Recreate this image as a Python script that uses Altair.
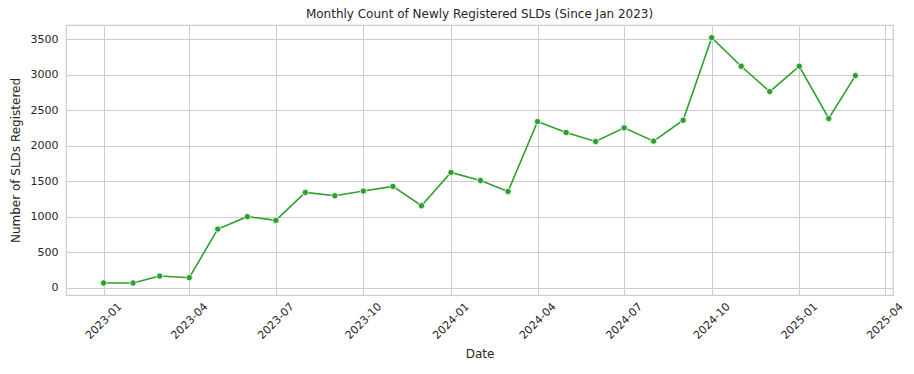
import altair as alt
import pandas as pd

months = ["2023-01", "2023-02", "2023-03", "2023-04", "2023-05", "2023-06", "2023-07",
          "2023-08", "2023-09", "2023-10", "2023-11", "2023-12", "2024-01", "2024-02",
          "2024-03", "2024-04", "2024-05", "2024-06", "2024-07", "2024-08", "2024-09",
          "2024-10", "2024-11", "2024-12", "2025-01", "2025-02", "2025-03"]
counts = [66, 66, 164, 141, 826, 1000, 948, 1342, 1295, 1361, 1426, 1154, 1623, 1510,
          1355, 2340, 2186, 2059, 2251, 2064, 2359, 3522, 3119, 2762, 3119, 2383, 2988]
tick_months = [(2023, 1), (2023, 4), (2023, 7), (2023, 10), (2024, 1), (2024, 4),
               (2024, 7), (2024, 10), (2025, 1), (2025, 4)]
y_ticks = [0, 500, 1000, 1500, 2000, 2500, 3000, 3500]

df = pd.DataFrame({"date": [m + "-01" for m in months], "count": counts})

FONT = "DejaVu Sans"
TXT = "#262626"
GREEN = "#2ca02c"

x = alt.X(
    "date:T",
    title="Date",
    scale=alt.Scale(
        type="utc",
        domain=[alt.DateTime(year=2022, month=11, date=22, hours=12, utc=True),
                alt.DateTime(year=2025, month=4, date=9, hours=12, utc=True)],
    ),
    axis=alt.Axis(
        values=[alt.DateTime(year=y, month=m, date=1, utc=True) for y, m in tick_months],
        labelExpr="utcFormat(datum.value, '%Y-%m')",
        labelAngle=-45, labelAlign="center", labelBaseline="middle",
        labelPadding=26, titlePadding=8,
    ),
)
y = alt.Y(
    "count:Q",
    title="Number of SLDs Registered",
    scale=alt.Scale(domain=[-103, 3700], nice=False, zero=False),
    axis=alt.Axis(values=y_ticks, format="d", labelPadding=8, titlePadding=8),
)

base = alt.Chart(df)
line = base.mark_line(color=GREEN, strokeWidth=1.6).encode(x=x, y=y)
pts = base.mark_point(filled=True, color=GREEN, size=40, opacity=1,
                      stroke="white", strokeWidth=0.8).encode(x=x, y=y)

chart = (
    alt.layer(line, pts)
    .properties(
        width=827, height=270,
        background="white",
        title=alt.TitleParams("Monthly Count of Newly Registered SLDs (Since Jan 2023)",
                              font=FONT, fontSize=12, fontWeight="normal", color=TXT,
                              anchor="middle", offset=4),
        autosize=alt.AutoSizeParams(type="none"),
        padding={"left": 58, "top": 17, "right": 12, "bottom": 70},
    )
    .configure_view(stroke="#cccccc", strokeWidth=1.2)
    .configure_axis(
        grid=True, gridColor="#cccccc", gridWidth=1,
        domain=False, ticks=False,
        labelFont=FONT, labelFontSize=11, labelColor=TXT,
        titleFont=FONT, titleFontSize=12, titleColor=TXT, titleFontWeight="normal",
    )
)

chart.save("out.html", embed_options={"renderer": "svg", "actions": False})
